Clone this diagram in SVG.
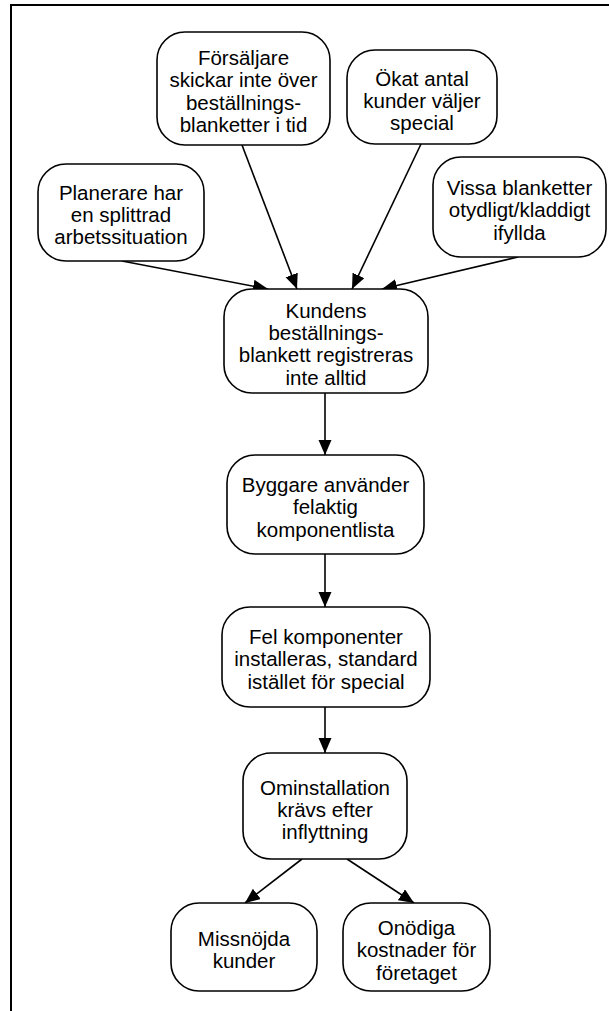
<svg xmlns="http://www.w3.org/2000/svg" width="609" height="1011" viewBox="0 0 609 1011">
  <style>
    .box { fill: #ffffff; stroke: #000000; stroke-width: 1.6; }
    .lbl { font-family: "Liberation Sans", Arial, sans-serif; font-size: 20.5px; fill: #000000; text-anchor: middle; }
    .edge { stroke: #000000; stroke-width: 1.6; fill: none; marker-end: url(#arrow); }
    .frame { fill: none; stroke: #000000; stroke-width: 2; }
  </style>
  <defs>
    <marker id="arrow" markerUnits="userSpaceOnUse" markerWidth="16" markerHeight="14" refX="15" refY="6.5" orient="auto">
      <path d="M0,0 L15,6.5 L0,13 z" fill="#000000"/>
    </marker>
  </defs>

  <rect width="609" height="1011" fill="#ffffff"/>
  <!-- page frame: only top and left edges fall inside the view -->
  <rect class="frame" x="11" y="5" width="640" height="1040"/>

  <g id="connectors">
    <line class="edge" x1="122" y1="261" x2="268" y2="289"/>
    <line class="edge" x1="242" y1="145" x2="297" y2="289"/>
    <line class="edge" x1="421" y1="144" x2="352" y2="289"/>
    <line class="edge" x1="518" y1="257" x2="382" y2="289"/>
    <line class="edge" x1="325" y1="393" x2="325" y2="455"/>
    <line class="edge" x1="325" y1="554" x2="325" y2="607"/>
    <line class="edge" x1="325" y1="707" x2="325" y2="753"/>
    <line class="edge" x1="302" y1="859" x2="245" y2="903"/>
    <line class="edge" x1="347" y1="859" x2="414" y2="903"/>
  </g>

  <g id="forsaljare">
    <rect class="box" x="157" y="32" width="173" height="113" rx="28"/>
    <text class="lbl" x="243.5" y="65">Försäljare</text>
    <text class="lbl" x="243.5" y="87.4">skickar inte över</text>
    <text class="lbl" x="243.5" y="109.8">beställnings-</text>
    <text class="lbl" x="243.5" y="132.2">blanketter i tid</text>
  </g>

  <g id="okat">
    <rect class="box" x="347" y="50" width="150" height="94" rx="28"/>
    <text class="lbl" x="422" y="85.5">Ökat antal</text>
    <text class="lbl" x="422" y="107.9">kunder väljer</text>
    <text class="lbl" x="422" y="130.3">special</text>
  </g>

  <g id="planerare">
    <rect class="box" x="38" y="164" width="166" height="97" rx="28"/>
    <text class="lbl" x="121" y="199.5">Planerare har</text>
    <text class="lbl" x="121" y="221.9">en splittrad</text>
    <text class="lbl" x="121" y="244.3">arbetssituation</text>
  </g>

  <g id="vissa">
    <rect class="box" x="433" y="157" width="173" height="100" rx="28"/>
    <text class="lbl" x="519.5" y="195">Vissa blanketter</text>
    <text class="lbl" x="519.5" y="217.4">otydligt/kladdigt</text>
    <text class="lbl" x="519.5" y="239.8">ifyllda</text>
  </g>

  <g id="kundens">
    <rect class="box" x="224" y="289" width="204" height="104" rx="28"/>
    <text class="lbl" x="326" y="317.5">Kundens</text>
    <text class="lbl" x="326" y="339.9">beställnings-</text>
    <text class="lbl" x="326" y="362.3">blankett registreras</text>
    <text class="lbl" x="326" y="384.7">inte alltid</text>
  </g>

  <g id="byggare">
    <rect class="box" x="227" y="455" width="197" height="99" rx="28"/>
    <text class="lbl" x="325.5" y="492">Byggare använder</text>
    <text class="lbl" x="325.5" y="514.4">felaktig</text>
    <text class="lbl" x="325.5" y="536.8">komponentlista</text>
  </g>

  <g id="fel">
    <rect class="box" x="222" y="607" width="208" height="100" rx="28"/>
    <text class="lbl" x="326" y="644">Fel komponenter</text>
    <text class="lbl" x="326" y="666.4">installeras, standard</text>
    <text class="lbl" x="326" y="688.8">istället för special</text>
  </g>

  <g id="ominstallation">
    <rect class="box" x="243" y="753" width="164" height="106" rx="28"/>
    <text class="lbl" x="325" y="794.5">Ominstallation</text>
    <text class="lbl" x="325" y="816.9">krävs efter</text>
    <text class="lbl" x="325" y="839.3">inflyttning</text>
  </g>

  <g id="missnojda">
    <rect class="box" x="171" y="903" width="146" height="88" rx="28"/>
    <text class="lbl" x="244" y="945.5">Missnöjda</text>
    <text class="lbl" x="244" y="967.9">kunder</text>
  </g>

  <g id="onodiga">
    <rect class="box" x="343" y="903" width="147" height="88" rx="28"/>
    <text class="lbl" x="416.5" y="935">Onödiga</text>
    <text class="lbl" x="416.5" y="957.4">kostnader för</text>
    <text class="lbl" x="416.5" y="979.8">företaget</text>
  </g>
</svg>
